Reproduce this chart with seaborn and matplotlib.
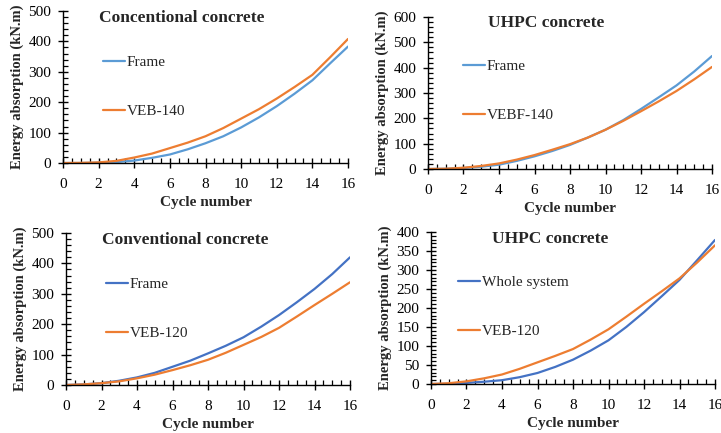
import numpy as np
import pandas as pd
import matplotlib
matplotlib.use("Agg")
import matplotlib.pyplot as plt
from matplotlib.ticker import MultipleLocator
import seaborn as sns

cycles = list(range(17))

p1_frame = [0, 0, 1, 3, 8, 17, 28, 45, 65, 88, 117, 150, 187, 228, 272, 328, 383]
p1_veb = [0, 0.5, 2, 7, 18, 31, 49, 67, 88, 115, 146, 177, 212, 250, 290, 348, 408]

p2_frame = [0, 1, 4, 9, 17, 32, 50, 71, 95, 124, 155, 193, 237, 283, 330, 385, 446]
p2_veb = [0, 1, 5, 12, 22, 37, 55, 76, 98, 124, 155, 190, 228, 267, 308, 354, 403]

p3_frame = [0, 2, 6, 14, 25, 40, 60, 80, 104, 129, 157, 192, 230, 272, 316, 365, 420]
p3_veb = [0, 2, 6, 12, 22, 34, 49, 65, 83, 106, 132, 158, 188, 225, 263, 300, 338]

p4_whole = [0, 0.5, 3, 6, 10, 18, 29, 45, 64, 88, 115, 150, 189, 231, 274, 326, 379]
p4_veb = [0, 2, 7, 15, 25, 40, 57, 74, 92, 117, 144, 177, 211, 244, 278, 320, 365]

titles = ["Concentional concrete", "UHPC concrete", "Conventional concrete", "UHPC concrete"]
labels = [("Frame", "VEB-140"), ("Frame", "VEBF-140"), ("Frame", "VEB-120"), ("Whole system", "VEB-120")]
series = [(p1_frame, p1_veb), (p2_frame, p2_veb), (p3_frame, p3_veb), (p4_whole, p4_veb)]
ymax = [500, 600, 500, 400]
ymajor = [100, 100, 100, 50]
yminor = [20, 20, 20, 10]

sns.set_theme(style="ticks")
plt.rcParams['font.family'] = ['Liberation Serif', 'DejaVu Serif']
plt.rcParams['font.size'] = 10.5

W, H = 721, 433
fig = plt.figure(figsize=(W / 100, H / 100), dpi=100)

# axes boxes in pixels: left, right, top(ymax), bottom(0)
boxes = [(63, 348, 11, 163), (428, 712, 17, 169), (66, 350, 233, 385), (431, 715, 232, 384)]
title_pos = [(182, 18), (546, 23), (185, 240), (550, 239)]
leg_pos = [(103, 87), (463, 91), (106, 309), (458, 307)]
blues = ["#5B9BD5", "#5B9BD5", "#4472C4", "#4472C4"]
orange = "#ED7D31"

for i in range(4):
    l, r, t, b = boxes[i]
    ax = fig.add_axes([l / W, 1 - b / H, (r - l) / W, (b - t) / H])
    s1, s2 = series[i]
    df = pd.DataFrame({"Cycle": cycles * 2,
                       "E": s1 + s2,
                       "S": [labels[i][0]] * len(cycles) + [labels[i][1]] * len(cycles)})
    sns.lineplot(data=df, x="Cycle", y="E", hue="S", palette=[blues[i], orange],
                 linewidth=1.6, ax=ax)
    ax.set_xlim(0, 16)
    ax.set_ylim(0, ymax[i])
    ax.xaxis.set_major_locator(MultipleLocator(2))
    ax.xaxis.set_minor_locator(MultipleLocator(0.5))
    ax.yaxis.set_major_locator(MultipleLocator(ymajor[i]))
    ax.yaxis.set_minor_locator(MultipleLocator(yminor[i]))
    ax.tick_params(which="major", direction="inout", length=7, width=1, colors="black",
                   labelsize=11)
    ax.tick_params(axis="x", which="major", pad=7)
    ax.tick_params(axis="y", which="major", pad=5)
    ax.tick_params(which="minor", direction="in", length=3.5, width=0.9, colors="black")
    for sp in ["top", "right"]:
        ax.spines[sp].set_visible(False)
    for sp in ["left", "bottom"]:
        ax.spines[sp].set_color("black")
        ax.spines[sp].set_linewidth(1)
    ax.set_xlabel("Cycle number", fontweight="bold", fontsize=11, labelpad=4)
    ax.set_ylabel("Energy absorption (kN.m)", fontweight="bold", fontsize=10.5, labelpad=3)
    tx, ty = title_pos[i]
    fig.text(tx / W, 1 - ty / H, titles[i], fontweight="bold", fontsize=12.5,
             ha="center", va="center")
    lx, ly = leg_pos[i]
    ax.legend(title=None, loc="center left", bbox_to_anchor=(lx / W, 1 - ly / H),
              bbox_transform=fig.transFigure, frameon=False, fontsize=11,
              handlelength=1.45, handletextpad=0.1, borderpad=0, borderaxespad=0,
              labelspacing=2.3)

fig.savefig("out.png", dpi=100)
